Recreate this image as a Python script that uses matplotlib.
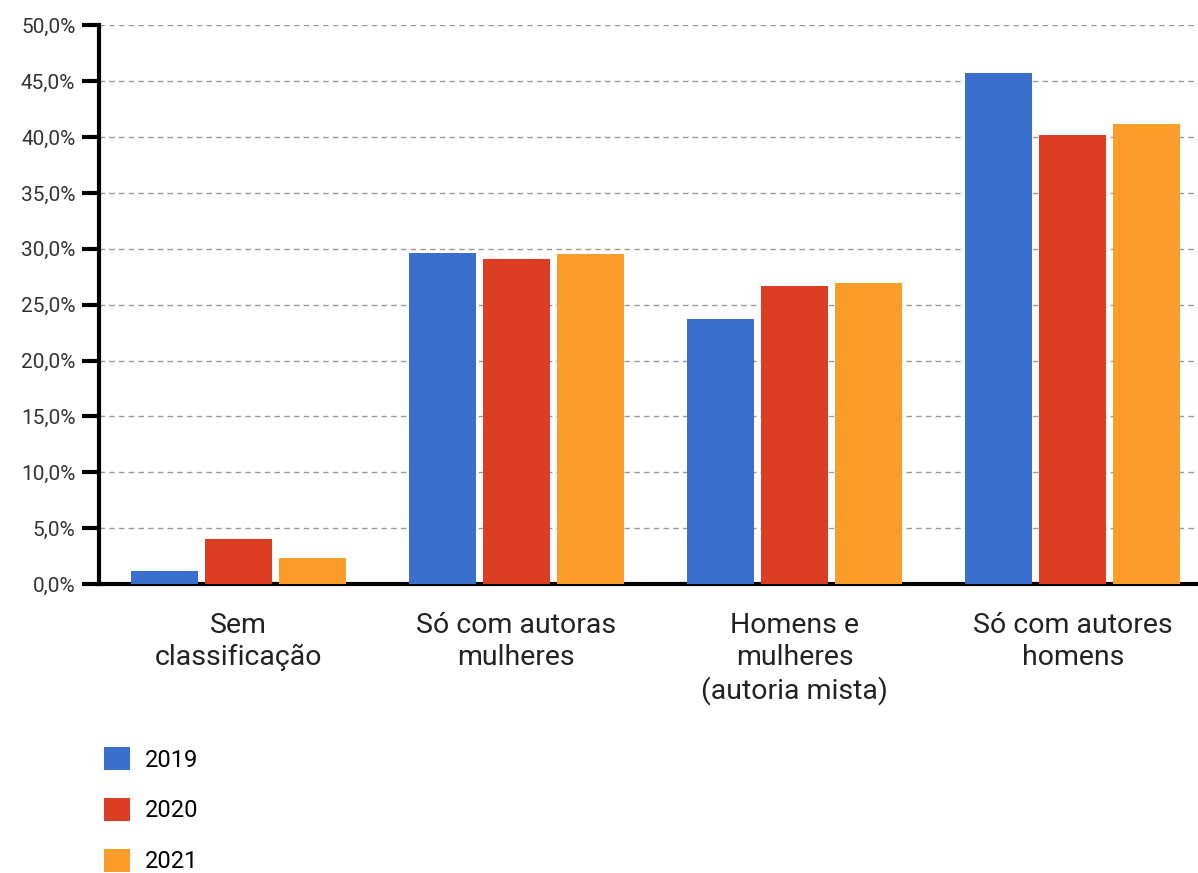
import matplotlib.pyplot as plt
from matplotlib.patches import Patch
import numpy as np

categorias = ["Sem\nclassificação", "Só com autoras\nmulheres",
              "Homens e\nmulheres\n(autoria mista)", "Só com autores\nhomens"]
anos = ["2019", "2020", "2021"]
v2019 = [1.2, 29.6, 23.7, 45.7]
v2020 = [4.0, 29.1, 26.7, 40.2]
v2021 = [2.3, 29.5, 26.9, 41.2]
cores = ["#3b6fce", "#dc3e23", "#fc9d2b"]

plt.rcParams['font.family'] = ['Roboto', 'DejaVu Sans']

fig = plt.figure(figsize=(11.98, 8.73), dpi=100)
ax = fig.add_axes([0.0826, 0.331, 0.9174, 0.64])

x = np.arange(len(categorias))
w = 0.241
passo = 0.266
for k, vals in enumerate([v2019, v2020, v2021]):
    ax.bar(x + (k - 1) * passo, vals, width=w, color=cores[k], zorder=3)

ax.set_xlim(-0.5, 3.45)
ax.set_ylim(0, 50)
ax.set_yticks(np.arange(0, 51, 5))
ax.yaxis.set_major_formatter(plt.FuncFormatter(lambda v, p: ("%.1f%%" % v).replace(".", ",")))
ax.set_xticks(x)
ax.set_xticklabels(categorias, fontsize=20.5, color="#222222", linespacing=1.25)
ax.tick_params(axis='x', length=0, pad=20)
ax.tick_params(axis='y', length=12, width=3, labelsize=15, labelcolor="#333333", pad=5)
ax.grid(axis='y', color="#999999", linestyle=(0, (4, 3)), linewidth=1, zorder=0)
for s in ["top", "right"]:
    ax.spines[s].set_visible(False)
ax.spines["left"].set_linewidth(3)
ax.spines["bottom"].set_linewidth(3)

handles = [Patch(facecolor=c, label=a) for c, a in zip(cores, anos)]
fig.legend(handles=handles, loc="upper left", bbox_to_anchor=(0.0868, 0.144),
           frameon=False, fontsize=17, handlelength=1.1, handleheight=1.1,
           labelspacing=1.12, handletextpad=0.64, borderaxespad=0, borderpad=0)

fig.savefig("out.png", dpi=100)
